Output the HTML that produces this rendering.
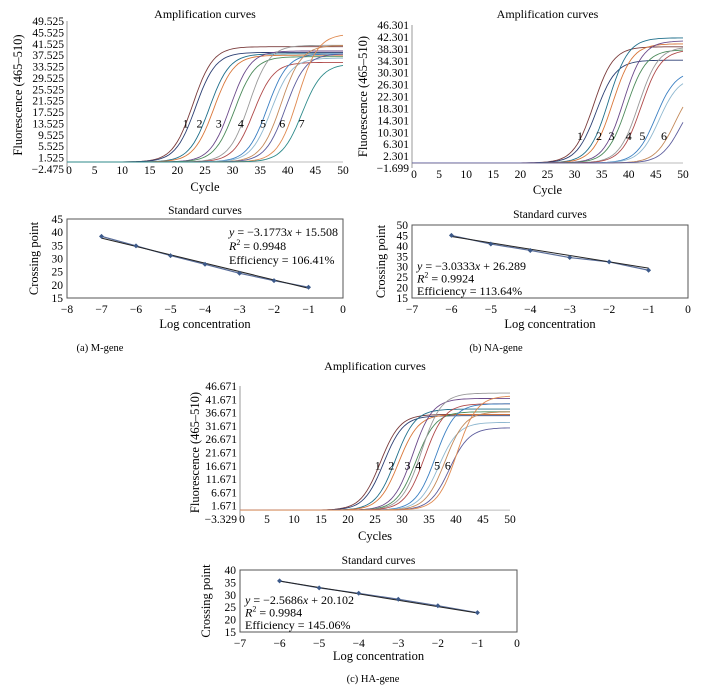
<!DOCTYPE html>
<html><head><meta charset="utf-8"><style>
body{margin:0;background:#fff}
svg{display:block;font-family:"Liberation Serif",serif}
</style></head><body>
<svg id="fig" width="722" height="692" viewBox="0 0 722 692" xmlns="http://www.w3.org/2000/svg"></svg>
<script>
// Amplification data: midpoints (Ct) and plateaus
const ampA_ct=[22.8,23.3,25.8,26.6,29.6,30.4,33,33.8,36.3,37,38.8,39.6,41.8,42.6];
const ampA_pl=[40.5,38.5,38,37.5,39,37,41,35,38,36.5,41,38,45,34.5];
const ampB_ct=[33.5,34,36.3,37,39,39.6,41.8,42.3,45,45.6,48.5,49.5];
const ampB_pl=[39,34.5,42,40,41,38,39,38,31,29,27,24];
const ampC_ct=[26,26.6,28.8,29.4,32,32.6,33.6,34.2,36.2,36.8,38,38.8,40.2];
const ampC_pl=[36,35.5,38,36,42,37,44,40,40,33,37,31,43];
const colors=["#7a3b3b","#2c3f73","#1f6f8b","#d9773a","#6c4a8a","#4c8a5a","#999","#b04a4a","#3a7fc2","#8fb8d0","#c48a5a","#5c5c9c","#e08a50","#2d8a8a"];
// Label positions (cycle, fluorescence)
const labA=["1","2","3","4","5","6","7"], labAx=[21.5,24,27.5,31.5,35.5,39,42.5];
const labB=["1","2","3","4","5","6"], labBx=[31,34.5,36.8,40,42.5,46.5];
const labC=["1","2","3","4","5","6"], labCx=[25.5,28,31,33,36.5,38.5];
// Standard curve data
const stdA_x=[-7,-6,-5,-4,-3,-2,-1], stdA_y=[38.4,34.8,31.1,27.8,24.4,21.6,19.1];
const stdB_x=[-6,-5,-4,-3,-2,-1], stdB_y=[45,40.9,37.8,34.4,32.3,28.3];
const stdC_x=[-6,-5,-4,-3,-2,-1], stdC_y=[35.6,32.8,30.6,28.2,25.6,22.8];

const svg=document.getElementById('fig');
const NS="http://www.w3.org/2000/svg";
function el(tag,attrs,parent,text){const e=document.createElementNS(NS,tag);for(const k in attrs)e.setAttribute(k,attrs[k]);if(text!==undefined)e.textContent=text;(parent||svg).appendChild(e);return e;}

function amp(o){
  const g=el('g',{});
  
  
  const X=v=>o.x0+(v/50)*(o.x1-o.x0);
  const Y=v=>o.yb+(v-o.ymin)/(o.ymax-o.ymin)*(o.yt-o.yb);
  const t=el('text',{x:(o.x0+o.x1)/2,y:o.titleY,'text-anchor':'middle','font-size':12},g,'Amplification curves');
  
  el('line',{x1:o.x0,y1:Y(o.ymax),x2:o.x0,y2:Y(o.ymin),stroke:'#999','stroke-width':1},g);
  el('line',{x1:o.x0,y1:Y(0),x2:o.x1,y2:Y(0),stroke:'#bbb','stroke-width':1},g);
  for(let i=0;i<o.nt;i++){const v=o.ymin+i*o.step;
    const tl=el('text',{x:o.x0-3,y:Y(v)+4,'text-anchor':'end','font-size':11.5},g,v.toFixed(3).replace('-','−'));
    }
  for(let c=0;c<=50;c+=5){const tl=el('text',{x:X(c)+(c===0?2:0),y:o.xlabY,'text-anchor':'middle','font-size':11.5},g,String(c));
    }
  const xt=el('text',{x:(o.x0+o.x1)/2,y:o.xtY,'text-anchor':'middle','font-size':12.5},g,o.xtitle);
  
  const yt=el('text',{x:0,y:0,'text-anchor':'middle','font-size':12.5,transform:`translate(${o.ytX},${(Y(o.ymax)+Y(o.ymin))/2}) rotate(-90)`},g,'Fluorescence (465–510)');
  
  o.ct.forEach((ct,i)=>{let d='';for(let c=0;c<=50;c+=0.5){const v=o.pl[i]/(1+Math.exp(-0.55*(c-ct)));d+=(c?'L':'M')+X(c).toFixed(1)+','+Y(v).toFixed(1);}
    const p=el('path',{d:d,fill:'none',stroke:colors[i%colors.length],'stroke-width':0.9},g);
    });
  o.lab.forEach((l,i)=>{const tl=el('text',{x:X(o.labx[i]),y:Y(o.laby)+4,'text-anchor':'middle','font-size':12},g,l);
    });
}
function std(o){
  const g=el('g',{});
  
  
  const X=v=>o.x0+(v-o.xmin)/(0-o.xmin)*(o.x1-o.x0);
  const Y=v=>o.yb+(v-o.ymin)/(o.ymax-o.ymin)*(o.yt-o.yb);
  const t=el('text',{x:(o.x0+o.x1)/2,y:o.titleY,'text-anchor':'middle','font-size':11.5},g,'Standard curves');
  
  el('rect',{x:o.x0,y:o.yt,width:o.x1-o.x0,height:o.yb-o.yt,fill:'none',stroke:'#555','stroke-width':1},g);
  for(let v=o.ymin;v<=o.ymax;v+=5){const tl=el('text',{x:o.x0-4,y:Y(v)+4,'text-anchor':'end','font-size':11.5},g,String(v));
    }
  for(let v=o.xmin;v<=0;v++){const tl=el('text',{x:X(v),y:o.yb+15,'text-anchor':'middle','font-size':11.5},g,v<0?'−'+(-v):'0');
    }
  const xt=el('text',{x:(o.x0+o.x1)/2,y:o.xtY,'text-anchor':'middle','font-size':12.5},g,'Log concentration');
  
  const yt=el('text',{x:0,y:0,'text-anchor':'middle','font-size':12.5,transform:`translate(${o.ytX},${(o.yt+o.yb)/2}) rotate(-90)`},g,'Crossing point');
  
  let d='';o.xs.forEach((x,i)=>{d+=(i?'L':'M')+X(x)+','+Y(o.ys[i]);});
  const pl=el('path',{d:d,fill:'none',stroke:'#5a6e9a','stroke-width':1.2},g);
  
  const xa=o.xs[0],xb=o.xs[o.xs.length-1];
  const tr=el('line',{x1:X(xa),y1:Y(o.m*xa+o.b),x2:X(xb),y2:Y(o.m*xb+o.b),stroke:'#222','stroke-width':1},g);
  
  o.xs.forEach((x,i)=>{const m=el('path',{d:`M${X(x)},${Y(o.ys[i])-2.5}l2.5,2.5l-2.5,2.5l-2.5,-2.5z`,fill:'#3d5a8a'},g);
    });
  for(let i=0;i<3;i++){const tl=el('text',{x:o.annX,y:o.annY+i*o.annStep,'font-size':12},g);
    
    if(i===0){el('tspan',{'font-style':'italic'},tl,'y');el('tspan',{},tl,` = −${(-o.m).toFixed(4)}`);el('tspan',{'font-style':'italic'},tl,'x');el('tspan',{},tl,` + ${o.b}`);}
    else if(i===1){el('tspan',{'font-style':'italic'},tl,'R');el('tspan',{'font-size':8,dy:-5},tl,'2');el('tspan',{dy:5},tl,` = ${o.r2}`);}
    else tl.textContent=`Efficiency = ${o.eff}`;}
}
amp({name:'amp-chart-m',x0:67,x1:343,yt:21,yb:169,ymin:-2.475,ymax:49.525,step:4,nt:14,titleY:18,xlabY:174,xtY:191,xtitle:'Cycle',ytX:22,ct:ampA_ct,pl:ampA_pl,lab:labA,labx:labAx,laby:13.5});
amp({name:'amp-chart-na',x0:412,x1:683,yt:25,yb:168,ymin:-1.699,ymax:46.301,step:4,nt:13,titleY:18,xlabY:178,xtY:194,xtitle:'Cycle',ytX:367,ct:ampB_ct,pl:ampB_pl,lab:labB,labx:labBx,laby:9});
amp({name:'amp-chart-ha',x0:240,x1:510,yt:386,yb:519,ymin:-3.329,ymax:46.671,step:5,nt:11,titleY:370,xlabY:523,xtY:540,xtitle:'Cycles',ytX:199,ct:ampC_ct,pl:ampC_pl,lab:labC,labx:labCx,laby:16.7});
std({name:'std-chart-m',x0:67,x1:343,yt:219,yb:298,xmin:-8,ymin:15,ymax:45,titleY:214,xtY:328,ytX:38,xs:stdA_x,ys:stdA_y,m:-3.1773,b:15.508,r2:'0.9948',eff:'106.41%',annX:229,annY:236,annStep:14});
std({name:'std-chart-na',x0:412,x1:688,yt:225,yb:298,xmin:-7,ymin:15,ymax:50,titleY:218,xtY:328,ytX:385,xs:stdB_x,ys:stdB_y,m:-3.0333,b:26.289,r2:'0.9924',eff:'113.64%',annX:417,annY:270,annStep:12.5});
std({name:'std-chart-ha',x0:240,x1:517,yt:570,yb:632,xmin:-7,ymin:15,ymax:40,titleY:564,xtY:660,ytX:210,xs:stdC_x,ys:stdC_y,m:-2.5686,b:20.102,r2:'0.9984',eff:'145.06%',annX:245,annY:604,annStep:12.5});
[[100,351,'(a)  M-gene'],[496,351,'(b)  NA-gene'],[373,682,'(c)  HA-gene']].forEach(c=>{const t=el('text',{x:c[0],y:c[1],'text-anchor':'middle','font-size':10.5},svg,c[2]);
  });
</script>
</body></html>
